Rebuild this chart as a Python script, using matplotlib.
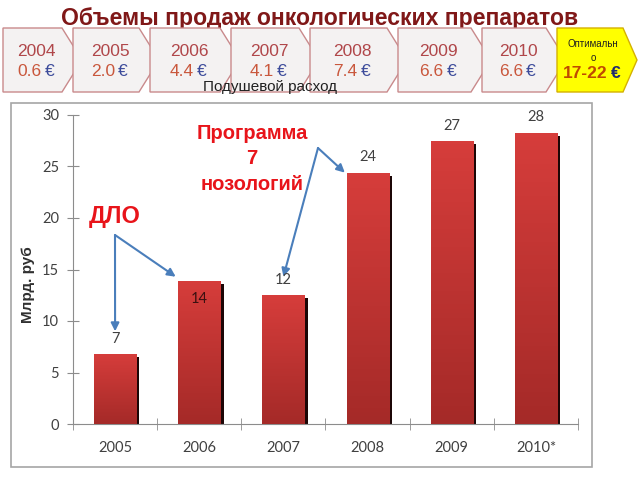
import numpy as np
import matplotlib
matplotlib.use('Agg')
import matplotlib.pyplot as plt
from matplotlib.patches import Polygon, Rectangle
from matplotlib.colors import LinearSegmentedColormap

plt.rcParams['font.family'] = ['Liberation Sans', 'DejaVu Sans']

# header: per-capita spending by year
hdr_years = ['2004', '2005', '2006', '2007', '2008', '2009', '2010']
hdr_spend = [0.6, 2.0, 4.4, 4.1, 7.4, 6.6, 6.6]
opt_label = 'Оптимальн\nо'
opt_range = '17-22'

# bar chart: sales volume, bln rub
years = ['2005', '2006', '2007', '2008', '2009', '2010*']
values = [6.8, 13.9, 12.5, 24.4, 27.5, 28.3]
value_labels = ['7', '14', '12', '24', '27', '28']

fig = plt.figure(figsize=(6.4, 4.8), dpi=100)
fig.patch.set_facecolor('white')

# pixel-coordinate background axes for header + frame
bg = fig.add_axes([0, 0, 1, 1])
bg.set_xlim(0, 640)
bg.set_ylim(480, 0)
bg.axis('off')

bg.text(320, 18, 'Объемы продаж онкологических препаратов', ha='center', va='center',
        fontsize=16.6, fontweight='bold', color='#801818')

# chevron boxes
lefts = [3, 73, 150, 231, 310, 398, 482, 557]
top, bot, mid = 28, 92, 60
for i, yr in enumerate(hdr_years):
    L = lefts[i]
    R = lefts[i + 1] - 11
    poly = Polygon([(L, top), (R, top), (R + 20, mid), (R, bot), (L, bot)],
                   closed=True, facecolor='#f4f2f2', edgecolor='#c98a8c', lw=1, zorder=2 + i)
    bg.add_patch(poly)
    cx = (L + R) / 2 + 4
    bg.text(cx, 51, yr, ha='center', va='center', fontsize=12.5, color='#b0474a', zorder=20)
    bg.text(cx + 5, 72, f'{hdr_spend[i]:.1f}', ha='right', va='center', fontsize=12.5,
            color='#c9573c', zorder=20)
    bg.text(cx + 8, 72, '€', ha='left', va='center', fontsize=12.5, color='#3b4a9a', zorder=20)

L, R = lefts[-1], 623
bg.add_patch(Polygon([(L, top), (R, top), (R + 14, mid), (R, bot), (L, bot)], closed=True,
                     facecolor='#ffff00', edgecolor='#d4b000', lw=1, zorder=12))
bg.text(593, 51, opt_label, ha='center', va='center', fontsize=7, color='#202020',
        linespacing=1.6, zorder=20)
bg.text(608, 74, opt_range, ha='right', va='center', fontsize=12.5, fontweight='bold',
        color='#c04a00', zorder=20)
bg.text(611, 74, '€', ha='left', va='center', fontsize=12.5, fontweight='bold',
        color='#1f2a70', zorder=20)

bg.text(270, 87, 'Подушевой расход', ha='center', va='center', fontsize=11,
        color='#202020', zorder=21)

# chart frame
bg.add_patch(Rectangle((11, 103), 581, 364, facecolor='white', edgecolor='#a6a6a6', lw=1.2))

# main chart
ax = fig.add_axes([73 / 640, (480 - 424) / 480, 505 / 640, 309 / 480])
ax.patch.set_alpha(0)
pos = np.arange(len(years))
cmap = LinearSegmentedColormap.from_list('bar', ['#a52a28', '#d63d3b'])

for x, v in zip(pos, values):
    ax.bar(x + 0.04, v - 0.3, width=0.5, color='#1c0606', zorder=2)
    b = ax.bar(x, v, width=0.5, color='#c0332f', zorder=3)[0]
    im = ax.imshow(np.linspace(0, 1, 64).reshape(-1, 1), cmap=cmap, origin='lower',
                   extent=[x - 0.25, x + 0.25, 0, v], aspect='auto', zorder=3)
    im.set_clip_path(b)

for i, (x, v, lab) in enumerate(zip(pos, values, value_labels)):
    if i == 1:
        ax.text(x, v - 1.1, lab, ha='center', va='top', fontsize=10.5, color='#3a1010',
                family=['Lato', 'DejaVu Sans'], zorder=5)
    else:
        ax.text(x, v + 0.8, lab, ha='center', va='bottom', fontsize=10.5, color='#404040',
                family=['Lato', 'DejaVu Sans'], zorder=5)

ax.set_xlim(-0.5, 5.5)
ax.set_ylim(0, 30)
for s in ['top', 'right']:
    ax.spines[s].set_visible(False)
for s in ['left', 'bottom']:
    ax.spines[s].set_color('#8c8c8c')
ax.set_yticks(range(0, 31, 5))
ax.set_xticks(pos)
ax.set_xticklabels(years)
ax.set_xticks(np.arange(-0.5, 6, 1), minor=True)
ax.tick_params(axis='x', which='major', length=0, pad=12, labelsize=10.5, labelcolor='#404040')
ax.tick_params(axis='x', which='minor', direction='inout', length=8, color='#8c8c8c')
ax.tick_params(axis='y', direction='inout', length=8, color='#8c8c8c', pad=6,
               labelsize=10.5, labelcolor='#404040')
for t in ax.get_xticklabels() + ax.get_yticklabels():
    t.set_family(['Lato', 'DejaVu Sans'])

ax.set_ylabel('Млрд. руб', fontsize=11, fontweight='bold', color='#303030')
ax.yaxis.set_label_coords(-0.075, 0.45)

# annotations
bg_tr = bg.transData
ap = dict(arrowstyle='-|>', color='#4a7ebb', lw=1.5, mutation_scale=12, shrinkA=0, shrinkB=0)
ax.text(115, 217, 'ДЛО', transform=bg_tr, ha='center', va='center', fontsize=17,
        fontweight='bold', color='#e8141a')
ax.annotate('', xy=(pos[0], values[0] + 2.2), xytext=(115, 235), textcoords=bg_tr,
            arrowprops=ap, annotation_clip=False)
ax.annotate('', xy=(pos[1] - 0.28, values[1] + 0.4), xytext=(115, 235), textcoords=bg_tr,
            arrowprops=ap, annotation_clip=False)

ax.text(252, 159, 'Программа\n7\nнозологий', transform=bg_tr, ha='center', va='center',
        fontsize=14.5, fontweight='bold', color='#e8141a', linespacing=1.45)
ax.annotate('', xy=(pos[2], values[2] + 1.8), xytext=(318, 148), textcoords=bg_tr,
            arrowprops=ap, annotation_clip=False)
ax.annotate('', xy=(pos[3] - 0.27, values[3]), xytext=(318, 148), textcoords=bg_tr,
            arrowprops=ap, annotation_clip=False)

fig.savefig('out.png', dpi=100)
